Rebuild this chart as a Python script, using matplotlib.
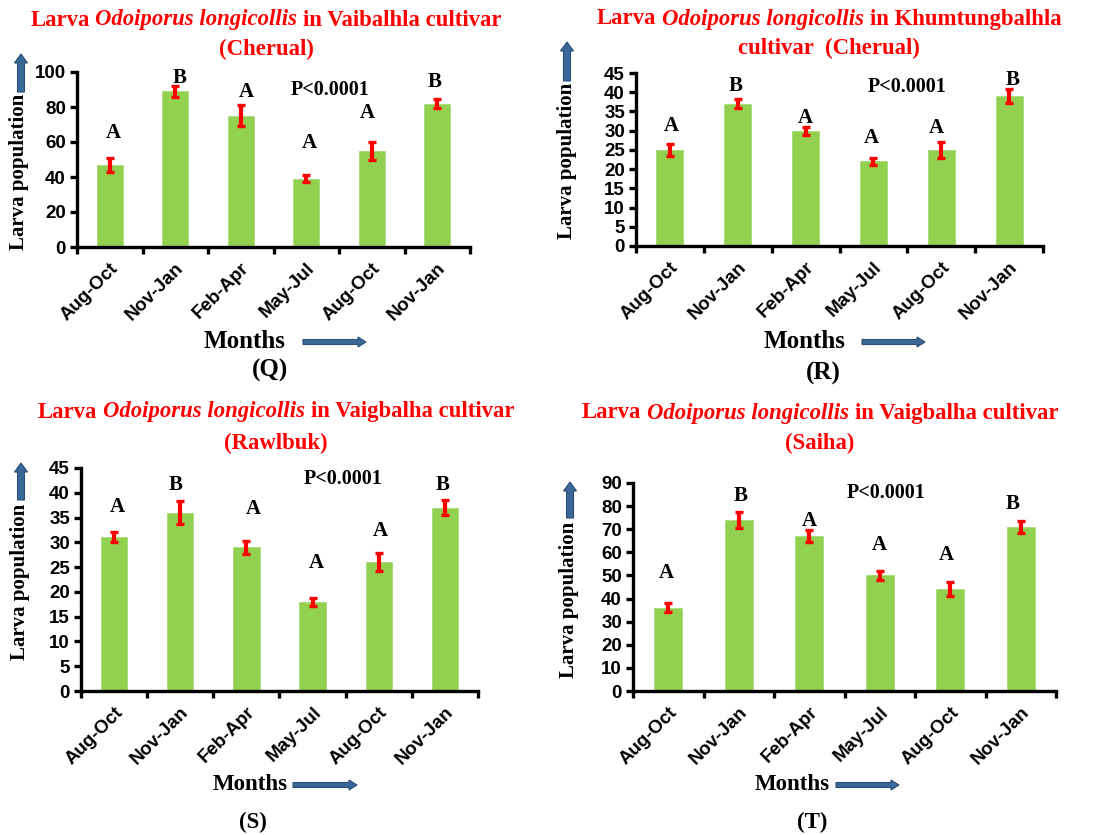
import matplotlib
matplotlib.use("Agg")
import matplotlib.pyplot as plt
from matplotlib.patches import FancyArrow
from matplotlib.transforms import IdentityTransform

# -----------------------------
# Data
# -----------------------------
months = ["Aug-Oct", "Nov-Jan", "Feb-Apr", "May-Jul", "Aug-Oct", "Nov-Jan"]

q_means = [47, 89, 75, 39, 55, 82]
q_err = [4, 3, 6, 2, 5, 2.5]
q_letters = ["A", "B", "A", "A", "A", "B"]

r_means = [25, 37, 30, 22, 25, 39]
r_err = [1.5, 1.2, 1.0, 1.0, 2.0, 1.8]
r_letters = ["A", "B", "A", "A", "A", "B"]

s_means = [31, 36, 29, 18, 26, 37]
s_err = [1.0, 2.3, 1.3, 0.8, 1.8, 1.5]
s_letters = ["A", "B", "A", "A", "A", "B"]

t_means = [36, 74, 67, 50, 44, 71]
t_err = [2.0, 3.5, 2.5, 2.0, 3.0, 2.5]
t_letters = ["A", "B", "A", "A", "A", "B"]

p_text = "P<0.0001"

# -----------------------------
# Layout (pixel positions in a 1106x835 canvas, y from top)
# -----------------------------
W, H = 1106, 835
PX = IdentityTransform()

BAR_GREEN = "#92D050"
ARROW_FC = "#3A6898"
ARROW_EC = "#2A4E74"
SERIF = "Liberation Serif"
SANS = "Liberation Sans"

panels = [
    dict(means=q_means, err=q_err, letters=q_letters,
         rect=(77, 72, 470, 247), ymax=100, step=20,
         letter_pos=[(0.06, 65), (1.07, 96.4), (2.09, 88.6), (3.04, 59.6), (3.94, 76.4), (4.96, 94.5)],
         p_pos=(3.36, 89.7),
         title=[[("Larva", False), ("Odoiporus longicollis", True), ("in Vaibalhla cultivar", False)],
                [("(Cherual)", False)]],
         title_xy=(266, 20, 49),
         ylab=(19, 172), yarrow=(21, 92, 54),
         months=(245, 342, 18), xarrow=(303, 366, 342),
         tag="(Q)", tag_xy=(270, 370)),
    dict(means=r_means, err=r_err, letters=r_letters,
         rect=(636, 73, 1043, 246), ymax=45, step=5,
         letter_pos=[(0.02, 31.1), (0.97, 41.7), (2.0, 33.2), (2.97, 28.2), (3.93, 30.8), (5.05, 43.3)],
         p_pos=(3.5, 41.3),
         title=[[("Larva", False), ("Odoiporus longicollis", True), ("in Khumtungbalhla", False)],
                [("cultivar  (Cherual)", False)]],
         title_xy=(829, 19, 48),
         ylab=(567, 161), yarrow=(567, 81, 42),
         months=(805, 342, 18), xarrow=(862, 925, 342),
         tag="(R)", tag_xy=(823, 373)),
    dict(means=s_means, err=s_err, letters=s_letters,
         rect=(81, 468, 478, 691), ymax=45, step=5,
         letter_pos=[(0.05, 37.2), (0.93, 41.6), (2.1, 36.7), (3.05, 25.8), (4.02, 32.3), (4.96, 41.6)],
         p_pos=(3.46, 42.8),
         title=[[("Larva", False), ("Odoiporus longicollis", True), ("in Vaigbalha cultivar", False)],
                [("(Rawlbuk)", False)]],
         title_xy=(276, 412, 443),
         ylab=(20, 582), yarrow=(21, 500, 463),
         months=(250, 785, 16.5), xarrow=(293, 357, 785),
         tag="(S)", tag_xy=(253, 822)),
    dict(means=t_means, err=t_err, letters=t_letters,
         rect=(633, 483, 1056, 691), ymax=90, step=10,
         letter_pos=[(-0.02, 51), (1.03, 84.2), (2.0, 73.4), (3.0, 63.3), (3.95, 59), (4.89, 80.9)],
         p_pos=(3.09, 85.7),
         title=[[("Larva", False), ("Odoiporus longicollis", True), ("in Vaigbalha cultivar", False)],
                [("(Saiha)", False)]],
         title_xy=(820, 413, 443),
         ylab=(569, 600), yarrow=(570, 518, 482),
         months=(792, 785, 16.5), xarrow=(836, 899, 785),
         tag="(T)", tag_xy=(812, 822)),
]

fig = plt.figure(figsize=(W / 100, H / 100), dpi=100)
renderer = fig.canvas.get_renderer()


def ftext(x, y, s, **kw):
    # text placed in canvas pixels, y measured from the top
    return fig.text(x, H - y, s, transform=PX, **kw)


def rich_line(xc, y, pieces, size):
    arts = []
    for s, ital in pieces:
        arts.append(ftext(0, y, s, fontsize=size, fontweight="bold",
                          fontstyle="italic" if ital else "normal",
                          family=SERIF, color="red", va="center", ha="left"))
    a = ftext(0, y, "a a", fontsize=size, fontweight="bold", family=SERIF)
    b = ftext(0, y, "aa", fontsize=size, fontweight="bold", family=SERIF)
    sp = a.get_window_extent(renderer).width - b.get_window_extent(renderer).width
    a.remove()
    b.remove()
    widths = [t.get_window_extent(renderer).width for t in arts]
    x = xc - (sum(widths) + sp * (len(arts) - 1)) / 2
    for t, w in zip(arts, widths):
        t.set_x(x)
        x += w + sp


for p in panels:
    l, t, r, b = p["rect"]
    ax = fig.add_axes([l / W, (H - b) / H, (r - l) / W, (b - t) / H])
    x = list(range(len(months)))
    ax.bar(x, p["means"], width=0.4, color=BAR_GREEN, edgecolor="#A9DC78", linewidth=0.6, zorder=2)
    ax.errorbar(x, p["means"], yerr=p["err"], fmt="none", ecolor="red",
                elinewidth=3, capsize=2.6, capthick=2.4, zorder=3)
    ax.set_xlim(-0.5, len(months) - 0.5)
    ax.set_ylim(0, p["ymax"])
    ax.set_yticks(range(0, p["ymax"] + 1, p["step"]))
    ax.set_xticks(x)
    ax.set_xticks([i - 0.5 for i in range(len(months) + 1)], minor=True)
    ax.set_xticklabels(months, rotation=45, ha="right", rotation_mode="anchor",
                       fontsize=13.5, fontweight="bold", family=SANS)
    for lab in ax.get_yticklabels():
        lab.set_fontsize(13.5)
        lab.set_fontweight("bold")
        lab.set_family(SANS)
    ax.tick_params(axis="x", which="major", length=0, pad=9)
    ax.tick_params(axis="x", which="minor", length=5, width=2.4, direction="out")
    ax.tick_params(axis="y", length=5, width=2.4, direction="out", pad=3)
    for side in ("top", "right"):
        ax.spines[side].set_visible(False)
    for side in ("left", "bottom"):
        ax.spines[side].set_linewidth(2.4)
    ax.patch.set_visible(False)

    for (lx, ly), letter in zip(p["letter_pos"], p["letters"]):
        ax.text(lx, ly, letter, ha="center", va="center", fontsize=15,
                fontweight="bold", family=SERIF)
    ax.text(p["p_pos"][0], p["p_pos"][1], p_text, ha="center", va="center",
            fontsize=14.5, fontweight="bold", family=SERIF)

    # titles
    tx, ty1, ty2 = p["title_xy"]
    rich_line(tx, ty1, p["title"][0], 16.4)
    rich_line(tx, ty2, p["title"][1], 16.4)

    # y label and arrow
    yx, yy = p["ylab"]
    ftext(yx, yy, "Larva population", rotation=90, ha="center", va="center",
          fontsize=15, fontweight="bold", family=SERIF)
    ax0, ay0, ay1 = p["yarrow"]
    fig.add_artist(FancyArrow(ax0, H - ay0, 0, ay0 - ay1, width=7, head_width=13,
                              head_length=9, length_includes_head=True, transform=PX,
                              fc=ARROW_FC, ec=ARROW_EC, lw=0.8))

    # x label and arrow
    mx, my, msize = p["months"]
    ftext(mx, my, "Months", ha="center", va="center", fontsize=msize,
          fontweight="bold", family=SERIF)
    x0, x1, xy = p["xarrow"]
    fig.add_artist(FancyArrow(x0, H - xy, x1 - x0, 0, width=5, head_width=10,
                              head_length=8, length_includes_head=True, transform=PX,
                              fc=ARROW_FC, ec=ARROW_EC, lw=0.8))

    # panel tag
    gx, gy = p["tag_xy"]
    ftext(gx, gy, p["tag"], ha="center", va="center", fontsize=msize,
          fontweight="bold", family=SERIF)

fig.savefig("out.png", dpi=100)
